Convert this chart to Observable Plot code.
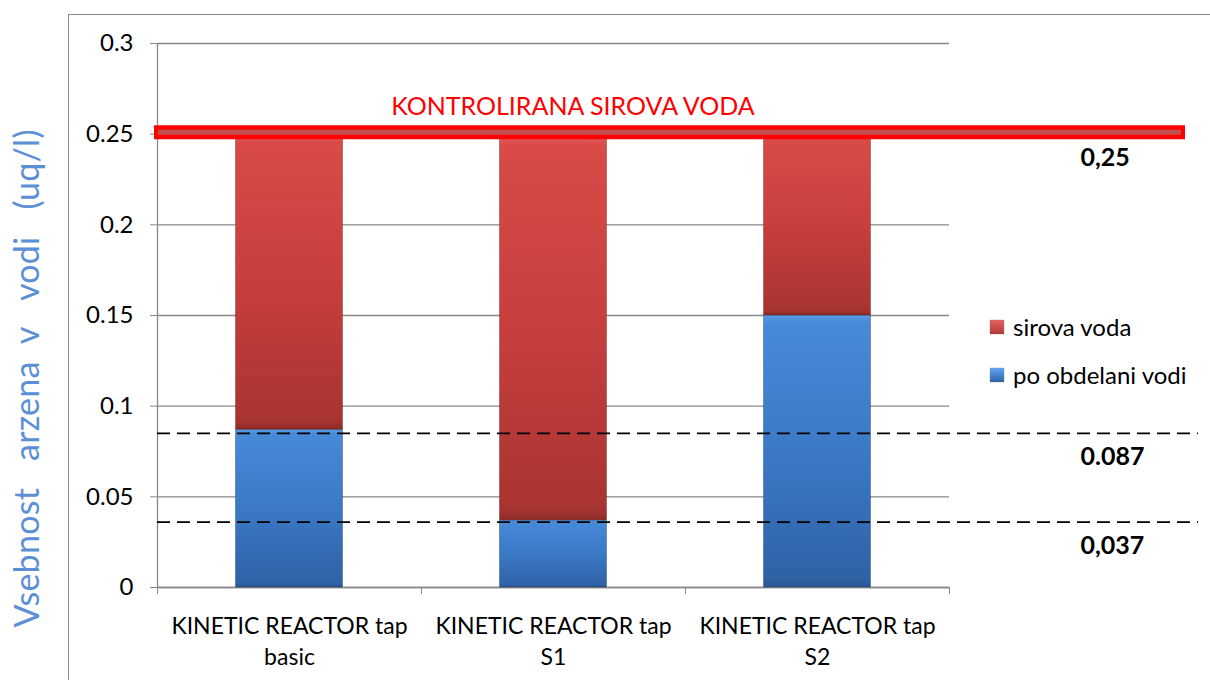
<!DOCTYPE html>
<html><head><meta charset="utf-8">
<script src="https://cdn.jsdelivr.net/npm/d3@7"></script>
<script src="https://cdn.jsdelivr.net/npm/@observablehq/plot@0.6"></script>
<style>
body{margin:0;background:#fff;}
#wrap{position:relative;width:1210px;height:680px;overflow:hidden;font-family:Lato, sans-serif;}
#frame{position:absolute;left:68px;top:14px;width:1200px;height:700px;border:1.5px solid #8a8a8a;box-sizing:border-box;}
#chart{position:absolute;left:0;top:0;}
#chart text{white-space:pre;}
#legend{position:absolute;left:990px;top:312px;font-size:24px;color:#000;line-height:30px;}
.row{display:flex;align-items:center;height:30px;margin-bottom:18px;}
.sw{width:14px;height:14px;margin-right:9px;box-shadow:0 0 1px rgba(0,0,0,0.5);}
</style></head><body><div id="wrap"><div id="frame"></div><div id="chart"></div><div id="legend"></div></div>
<script>
const categories = ["KINETIC REACTOR tap basic", "KINETIC REACTOR tap S1", "KINETIC REACTOR tap S2"];
const seriesNames = ["sirova voda", "po obdelani vodi"];
const treated = [0.087, 0.037, 0.15];     // po obdelani vodi
const raw = [0.163, 0.213, 0.10];         // sirova voda (stacked on top)
const yTicks = [0, 0.05, 0.1, 0.15, 0.2, 0.25, 0.3];
const limitValue = 0.25;
const limitLabel = "KONTROLIRANA SIROVA VODA";
const refValues = [0.25, 0.085, 0.036];
const refLabels = ["0,25", "0.087", "0,037"];
const yTitle = "Vsebnost   arzena  v   vodi   (uq/l)";

const blueRows = categories.map((c, i) => ({i, c, y1: 0, y2: treated[i]}));
const redRows = categories.map((c, i) => ({i, c, y1: treated[i], y2: treated[i] + raw[i]}));
const wrapLabel = s => { const k = s.lastIndexOf(" "); return s.slice(0, k) + "\n" + s.slice(k + 1); };
const gray = "#888888";

const chart = Plot.plot({
  width: 1210, height: 680,
  marginLeft: 157, marginRight: 261, marginTop: 43, marginBottom: 93,
  style: {fontFamily: "Lato, sans-serif", fontSize: "24px", background: "transparent", overflow: "visible"},
  x: {type: "linear", domain: [0, categories.length], axis: null},
  y: {domain: [0, 0.3], axis: null},
  marks: [
    Plot.gridY(yTicks, {stroke: gray, strokeOpacity: 1, strokeWidth: 1.3}),
    Plot.axisY(yTicks, {tickSize: 7, tickPadding: 17, stroke: gray, fill: "#000", fontSize: 24,
      tickFormat: d => String(+d.toFixed(2)), label: null}),
    Plot.axisX(d3.range(categories.length + 1), {tickSize: 7, stroke: gray, tickFormat: () => "", label: null}),
    Plot.ruleX([0], {stroke: gray, strokeWidth: 1.3}),
    Plot.ruleY([0], {stroke: gray, strokeWidth: 1.3}),
    Plot.rectY(blueRows, {x1: d => d.i, x2: d => d.i + 1, y1: "y1", y2: "y2", insetLeft: 78.5, insetRight: 78.5,
      fill: "url(#gBlue)", stroke: "rgba(20,40,80,0.35)", strokeWidth: 1}),
    Plot.rectY(redRows, {x1: d => d.i, x2: d => d.i + 1, y1: "y1", y2: "y2", insetLeft: 78.5, insetRight: 78.5,
      fill: "url(#gRed)", stroke: "rgba(80,20,20,0.35)", strokeWidth: 1}),
    Plot.ruleY(refValues.slice(1), {stroke: "#000", strokeWidth: 1.8, strokeDasharray: "13,7", insetRight: -249}),
    Plot.ruleY([limitValue], {stroke: "#ff0000", strokeWidth: 14, insetLeft: -3, insetRight: -236, dy: -2}),
    Plot.ruleY([limitValue], {stroke: "#c0504d", strokeWidth: 5, insetLeft: 1, insetRight: -232, dy: -2}),
    Plot.text([limitLabel], {x: 0.885, y: limitValue, dy: -27, textAnchor: "start", fill: "#ff0000", fontSize: 25}),
    Plot.text(refValues, {x: 3.496, y: d => d, text: (d, i) => refLabels[i], dy: 24, textAnchor: "start", fontWeight: "bold", fontSize: 25}),
    Plot.text(categories, {x: (d, i) => i + 0.5, y: 0, text: wrapLabel, lineAnchor: "top", dy: 24, fontSize: 23, lineHeight: 1.35}),
    Plot.text([yTitle], {frameAnchor: "bottom-left", textAnchor: "start", lineAnchor: "middle", rotate: -90, dx: -129, dy: 40, fill: "#5b8fd6", fontSize: 34})
  ]
});

const svg = d3.select(chart);
svg.selectAll("text").filter(function() { return this.textContent === yTitle; })
  .attr("textLength", 498).attr("lengthAdjust", "spacing").attr("xml:space", "preserve");
const defs = svg.insert("defs", ":first-child");
const grad = (id, stops) => {
  const g = defs.append("linearGradient").attr("id", id).attr("x1", 0).attr("y1", 0).attr("x2", 0).attr("y2", 1);
  stops.forEach(([o, c]) => g.append("stop").attr("offset", o).attr("stop-color", c));
};
grad("gBlue", [[0, "#5a9be6"], [0.03, "#468ad8"], [0.5, "#3b79c6"], [0.97, "#2f62a6"], [1, "#2a5590"]]);
grad("gRed", [[0, "#e66462"], [0.03, "#d94a48"], [0.5, "#c73f3d"], [0.97, "#a83432"], [1, "#8e2a28"]]);
document.getElementById("chart").appendChild(chart);

const legend = d3.select("#legend");
const swatch = {"sirova voda": "linear-gradient(#e06260,#b23a38)", "po obdelani vodi": "linear-gradient(#62a4ee,#2f62a6)"};
seriesNames.forEach(s => {
  const r = legend.append("div").attr("class", "row");
  r.append("div").attr("class", "sw").style("background", swatch[s]);
  r.append("span").text(s);
});
</script></body></html>
